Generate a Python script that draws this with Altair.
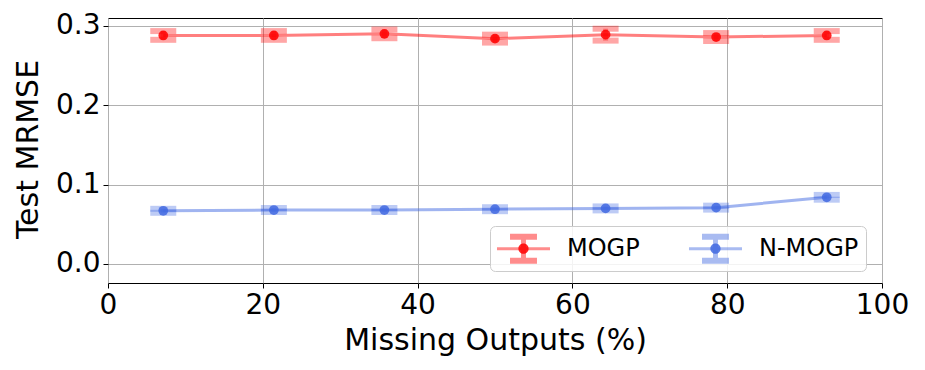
import altair as alt
import pandas as pd

# ---- data ----
missing_pct = [7.14, 21.43, 35.71, 50.0, 64.29, 78.57, 92.86]
mogp_mrmse = [0.288, 0.288, 0.290, 0.284, 0.289, 0.286, 0.288]
mogp_err = [0.0055, 0.0055, 0.0055, 0.005, 0.0075, 0.005, 0.0055]
nmogp_mrmse = [0.067, 0.068, 0.068, 0.069, 0.070, 0.071, 0.084]
nmogp_err = [0.0025, 0.0025, 0.0025, 0.0025, 0.0025, 0.0025, 0.003]
series_names = ["MOGP", "N-MOGP"]
series_colors = ["#ff0000", "#4169e1"]
x_ticks = [0, 20, 40, 60, 80, 100]
y_ticks = [0.0, 0.1, 0.2, 0.3]

rows = []
for name, vals, errs in [("MOGP", mogp_mrmse, mogp_err), ("N-MOGP", nmogp_mrmse, nmogp_err)]:
    for x, v, e in zip(missing_pct, vals, errs):
        rows.append({"x": x, "y": v, "lo": v - e, "hi": v + e, "series": name})
df = pd.DataFrame(rows)

FONT = "DejaVu Sans"

x_enc = alt.X(
    "x:Q",
    scale=alt.Scale(domain=[0, 100], nice=False, zero=False),
    axis=alt.Axis(values=x_ticks, format="d", title="Missing Outputs (%)",
                  titleY=66, titleBaseline="alphabetic", labelPadding=3),
)

def y_axis():
    return alt.Axis(values=y_ticks, format=".1f", title="Test MRMSE",
                    titleX=-80, titleY=131, titleBaseline="middle", labelPadding=3)

y_scale = alt.Scale(domain=[-0.024, 0.310], nice=False, zero=False)

# legend glyphs (unit = 15.5 px)
PATH_A = ("M-1.71,-0.097H1.71V0.097H-1.71Z "
          "M-0.87,-0.97H0.87V-0.58H-0.87Z "
          "M-0.87,0.58H0.87V0.97H-0.87Z "
          "M-0.16,-0.97H0.16V0.97H-0.16Z")
PATH_B = ("M-1.71,-0.97L-1.71,-0.97M1.71,0.97L1.71,0.97 "
          "M-0.33,0A0.33,0.33,0,1,0,0.33,0A0.33,0.33,0,1,0,-0.33,0Z")

common_leg = dict(title=None, orient="none", legendX=382, legendY=208,
                  direction="horizontal", symbolSize=961, symbolOffset=11,
                  labelFont=FONT, labelFontSize=24, labelColor="black",
                  labelOffset=28, columnPadding=48, padding=7, symbolStrokeWidth=0)

legend_a = alt.Legend(symbolType=PATH_A, symbolOpacity=0.45,
                      fillColor="rgba(255,255,255,0.85)", strokeColor="#cccccc",
                      cornerRadius=5, **common_leg)
legend_b = alt.Legend(symbolType=PATH_B, symbolOpacity=0.85, labelOpacity=0,
                      zindex=1, **common_leg)

def color(legend):
    return alt.Color("series:N",
                     scale=alt.Scale(domain=series_names, range=series_colors),
                     legend=legend)

base = alt.Chart(df)

caps = base.transform_fold(["lo", "hi"], as_=["cap", "capy"]).mark_tick(
    orient="horizontal", thickness=6, size=26, opacity=0.35
).encode(x=x_enc, y=alt.Y("capy:Q", scale=y_scale, axis=y_axis()), color=color(legend_a))

bars = base.mark_rule(strokeWidth=5, opacity=0.35).encode(
    x=x_enc, y=alt.Y("lo:Q", scale=y_scale, axis=y_axis()), y2="hi:Q", color=color(None)
)

lines = base.mark_line(strokeWidth=3, opacity=0.5).encode(
    x=x_enc, y=alt.Y("y:Q", scale=y_scale, axis=y_axis()), color=color(None)
)

points = base.mark_circle(size=95, opacity=0.85).encode(
    x=x_enc, y=alt.Y("y:Q", scale=y_scale, axis=y_axis()), color=color(legend_b)
)

chart = alt.layer(caps, bars, lines, points).resolve_scale(
    color="independent"
).properties(
    width=774, height=265,
    background="white",
    autosize=alt.AutoSizeParams(type="none"),
    padding={"left": 100, "top": 10, "right": 35, "bottom": 75},
).configure_view(
    stroke="black", strokeWidth=1
).configure_axis(
    labelFont=FONT, titleFont=FONT, labelFontSize=28, titleFontSize=30,
    labelColor="black", titleColor="black", titleFontWeight="normal",
    grid=True, gridColor="#b0b0b0", gridWidth=1,
    tickSize=5, tickColor="black", tickWidth=1, domain=False,
    labelOverlap=False, labelFlush=False, labelBound=False,
)

chart.save("out.html", embed_options={"renderer": "svg", "actions": False})
